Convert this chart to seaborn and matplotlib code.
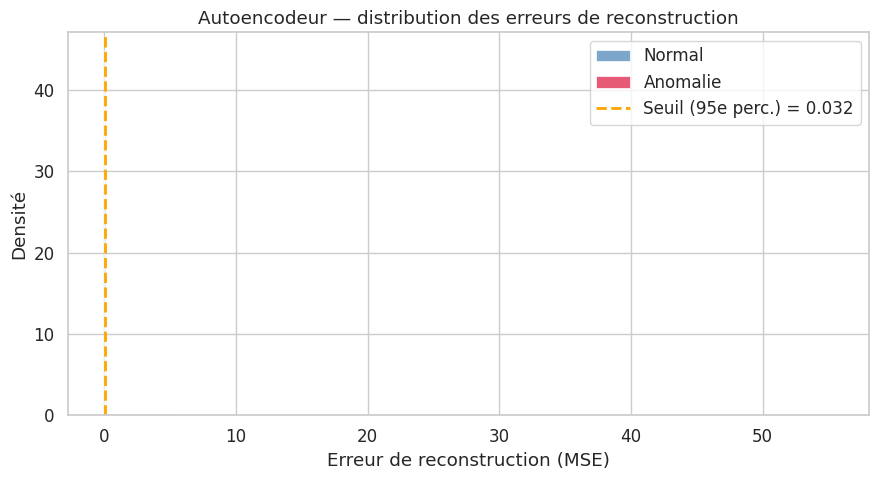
import numpy as np
import matplotlib
matplotlib.use("Agg")
import matplotlib.pyplot as plt
import seaborn as sns

# Pre-binned reconstruction errors (density scale)
normal_edges = [0.003, 0.008, 0.013, 0.018, 0.023, 0.028, 0.033, 0.038, 0.043, 0.048]
normal_density = [6.0, 30.0, 44.9, 38.0, 26.0, 15.0, 8.0, 3.5, 1.2]

anom_edges = [0.0, 5.5, 11.1, 16.6, 22.1, 27.7, 33.2, 38.7, 44.2, 49.8, 55.3]
anom_density = [0.120, 0.030, 0.015, 0.010, 0.008, 0.006, 0.004, 0.003, 0.002, 0.002]

threshold = 0.032

sns.set_theme(style="whitegrid", font_scale=1.1)

fig, ax = plt.subplots(figsize=(8.8, 4.8), dpi=100)

n_centers = (np.array(normal_edges[:-1]) + np.array(normal_edges[1:])) / 2
a_centers = (np.array(anom_edges[:-1]) + np.array(anom_edges[1:])) / 2

sns.histplot(x=n_centers, weights=normal_density, bins=normal_edges,
             color="steelblue", alpha=0.7, edgecolor="white", linewidth=0.5,
             label="Normal", ax=ax)
sns.histplot(x=a_centers, weights=anom_density, bins=anom_edges,
             color="crimson", alpha=0.7, edgecolor="white", linewidth=0.5,
             label="Anomalie", ax=ax)
ax.axvline(threshold, color="orange", linestyle="--", linewidth=2,
           label=f"Seuil (95e perc.) = {threshold:.3f}")

ax.set_title("Autoencodeur — distribution des erreurs de reconstruction")
ax.set_xlabel("Erreur de reconstruction (MSE)")
ax.set_ylabel("Densité")

handles, labels = ax.get_legend_handles_labels()
order = [labels.index("Normal"), labels.index("Anomalie"),
         labels.index(f"Seuil (95e perc.) = {threshold:.3f}")]
ax.legend([handles[i] for i in order], [labels[i] for i in order], loc="upper right")

fig.subplots_adjust(left=0.077, right=0.9875, top=0.933, bottom=0.135)
plt.savefig("out.png")
